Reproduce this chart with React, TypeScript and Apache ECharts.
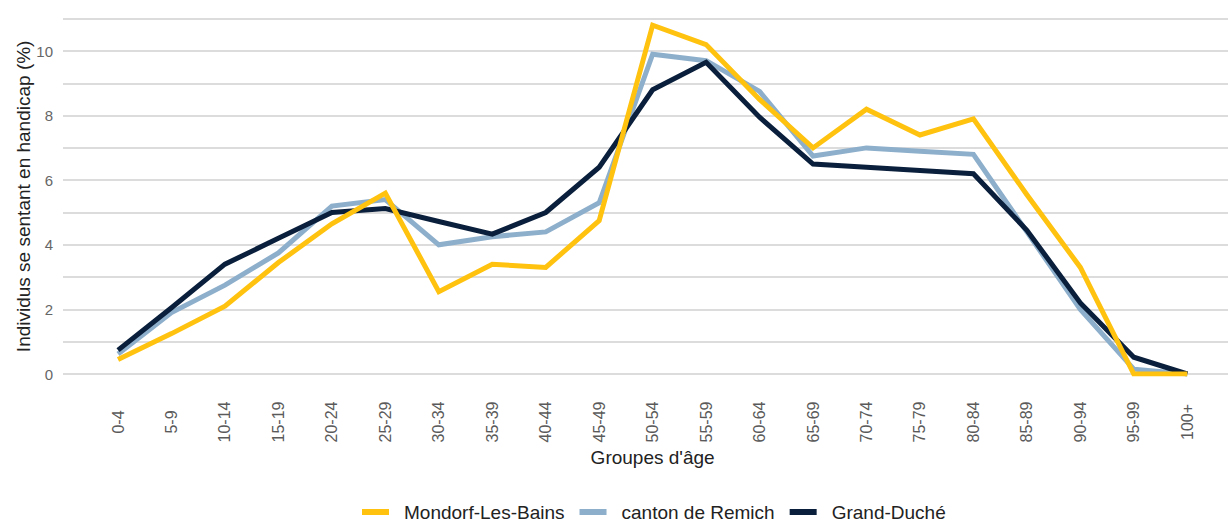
import React, { useEffect, useRef } from "react";
import * as echarts from "echarts";

const categories = ["0-4","5-9","10-14","15-19","20-24","25-29","30-34","35-39","40-44","45-49","50-54","55-59","60-64","65-69","70-74","75-79","80-84","85-89","90-94","95-99","100+"];
const mondorf = [0.45,1.25,2.1,3.45,4.65,5.6,2.55,3.4,3.3,4.75,10.8,10.2,8.5,7.0,8.2,7.4,7.9,5.55,3.3,0,0];
const remich = [0.62,1.9,2.75,3.75,5.2,5.4,4.0,4.25,4.4,5.3,9.9,9.7,8.75,6.75,7.0,6.9,6.8,4.4,2.0,0.15,0];
const grandDuche = [0.74,2.05,3.4,4.2,5.0,5.12,4.72,4.33,5.0,6.4,8.8,9.65,7.95,6.5,6.4,6.3,6.2,4.45,2.2,0.52,0];
const yTicks = [0, 2, 4, 6, 8, 10];

const FONT = "'Liberation Sans', Arial, sans-serif";

export default function App() {
  const ref = useRef<HTMLDivElement>(null);
  useEffect(() => {
    const chart = echarts.init(ref.current!, null, { renderer: "svg" });
    const mk = (name: string, data: number[], color: string, z: number) => ({
      name,
      type: "line",
      data,
      xAxisIndex: 0,
      yAxisIndex: 0,
      symbol: "none",
      z,
      lineStyle: { width: 5, color, join: "miter" },
      itemStyle: { color },
    });
    chart.setOption({
      animation: false,
      textStyle: { fontFamily: FONT },
      grid: [
        { left: 91.3, right: 14, top: 18.7, bottom: 150 },
        { left: 63, right: 0, top: 18.7, bottom: 150 },
      ],
      xAxis: [
        {
          type: "category",
          gridIndex: 0,
          data: categories,
          boundaryGap: true,
          axisLine: { show: false },
          axisTick: { show: false },
          axisLabel: {
            rotate: 90,
            align: "center",
            verticalAlign: "middle",
            margin: 48,
            color: "#5a5a5a",
            fontSize: 16,
            fontFamily: FONT,
            interval: 0,
          },
          name: "Groupes d'âge",
          nameLocation: "middle",
          nameGap: 74,
          nameMoveOverlap: false,
          nameTextStyle: { color: "#222", fontSize: 19, fontFamily: FONT },
        },
        { type: "value", gridIndex: 1, show: false, min: 0, max: 1 },
      ],
      yAxis: [
        { type: "value", gridIndex: 0, min: 0, max: 11, interval: 1, show: false },
        {
          type: "value",
          gridIndex: 1,
          min: 0,
          max: 11,
          interval: 1,
          axisLine: { show: false },
          axisTick: { show: false },
          splitLine: { show: true, lineStyle: { color: "#d0d0d0", width: 1.6 } },
          axisLabel: {
            color: "#666",
            fontSize: 15,
            margin: 10,
            fontFamily: FONT,
            formatter: (v: number) => (yTicks.includes(v) ? String(v) : ""),
          },
          name: "Individus se sentant en handicap (%)",
          nameLocation: "middle",
          nameRotate: 90,
          nameGap: 30,
          nameMoveOverlap: false,
          nameTextStyle: { color: "#222", fontSize: 19, fontFamily: FONT },
        },
      ],
      legend: {
        left: 362,
        top: 502,
        padding: 0,
        icon: "rect",
        itemWidth: 27,
        itemHeight: 6,
        itemGap: 15,
        textStyle: { color: "#222", fontSize: 19, lineHeight: 20, fontFamily: FONT, padding: [0, 0, 0, 10] },
        data: ["Mondorf-Les-Bains", "canton de Remich", "Grand-Duché"],
      },
      series: [
        mk("Mondorf-Les-Bains", mondorf, "#FFC20E", 5),
        mk("canton de Remich", remich, "#8DAFCB", 3),
        mk("Grand-Duché", grandDuche, "#0A1F3B", 4),
      ],
    });
    return () => chart.dispose();
  }, []);
  return (
    <div
      ref={ref}
      style={{ position: "fixed", left: 0, top: 0, width: 1228, height: 524, background: "#fff" }}
    />
  );
}
